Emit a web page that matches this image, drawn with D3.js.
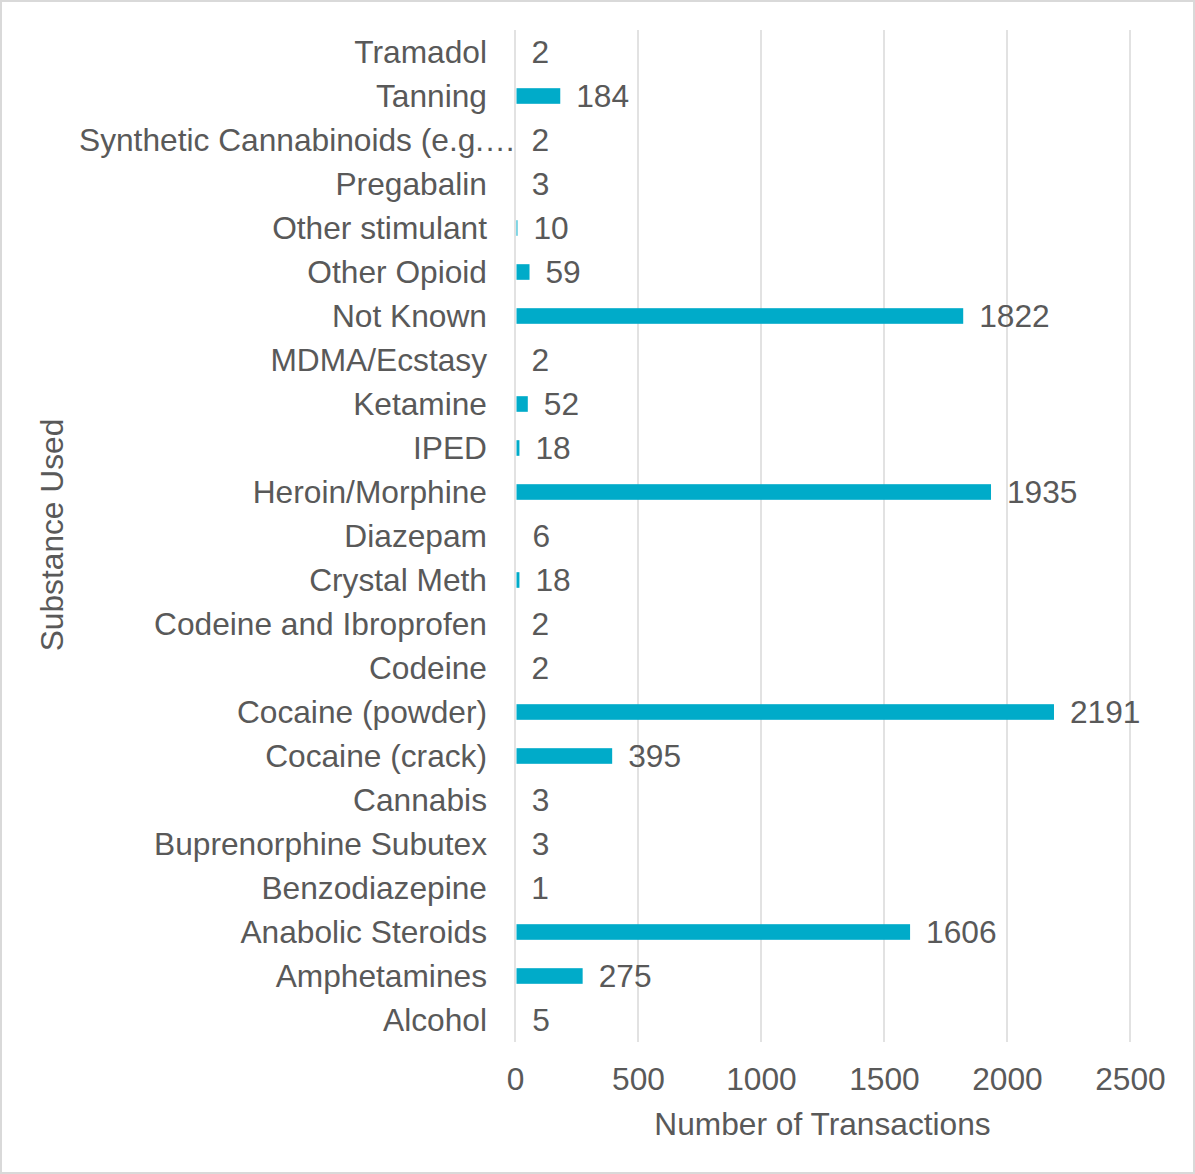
<!DOCTYPE html>
<html><head><meta charset="utf-8">
<script src="https://cdn.jsdelivr.net/npm/d3@7"></script>
<style>
html,body{margin:0;padding:0;background:#fff;}
svg{display:block;font-family:"Liberation Sans",Arial,sans-serif;}
</style></head>
<body>
<svg id="chart" width="1195" height="1174"></svg>
<script>
const categories = ["Tramadol","Tanning","Synthetic Cannabinoids (e.g.…","Pregabalin","Other stimulant","Other Opioid","Not Known","MDMA/Ecstasy","Ketamine","IPED","Heroin/Morphine","Diazepam","Crystal Meth","Codeine and Ibroprofen","Codeine","Cocaine (powder)","Cocaine (crack)","Cannabis","Buprenorphine Subutex","Benzodiazepine","Anabolic Steroids","Amphetamines","Alcohol"];
const values = [2,184,2,3,10,59,1822,2,52,18,1935,6,18,2,2,2191,395,3,3,1,1606,275,5];
const xTicks = [0,500,1000,1500,2000,2500];
const xTitle = "Number of Transactions";
const yTitle = "Substance Used";

const svg = d3.select("#chart");
const W = 1195, H = 1174;
const textColor = "#595959", fs = 31.7;
const barColor = "#00abc9";

svg.append("rect").attr("x",1).attr("y",1).attr("width",W-2).attr("height",H-2)
  .attr("fill","#fff").attr("stroke","#d9d9d9").attr("stroke-width",2);

const m = {left:515, right:1130, top:30, bottom:1042};
const x = d3.scaleLinear().domain([0,2500]).range([m.left,m.right]);
const y = d3.scaleBand().domain(categories).range([m.top,m.bottom]).paddingInner(0.645).paddingOuter(0.3225);

// gridlines
svg.append("g").selectAll("line").data(xTicks).join("line")
  .attr("x1",d=>x(d)).attr("x2",d=>x(d)).attr("y1",m.top).attr("y2",m.bottom)
  .attr("stroke","#d9d9d9").attr("stroke-width",1.5);

// bars
svg.append("g").selectAll("rect").data(values).join("rect")
  .attr("x",x(0)+1.5).attr("y",(d,i)=>y(categories[i]))
  .attr("width",d=>Math.max(0,x(d)-x(0)-1.5)).attr("height",y.bandwidth())
  .attr("fill",barColor);

const center = c => y(c)+y.bandwidth()/2;

// value labels
svg.append("g").selectAll("text").data(values).join("text")
  .attr("x",d=>x(d)+16).attr("y",(d,i)=>center(categories[i])).attr("dy","0.36em")
  .attr("fill",textColor).attr("font-size",fs).text(d=>d);

// category labels
svg.append("g").selectAll("text").data(categories).join("text")
  .attr("x",d=>d.endsWith("…")?79:487).attr("text-anchor",d=>d.endsWith("…")?"start":"end")
  .attr("y",d=>center(d)).attr("dy","0.36em")
  .attr("fill",textColor).attr("font-size",fs).text(d=>d);

// x axis tick labels
const xAxis = d3.axisBottom(x).tickValues(xTicks).tickFormat(d3.format("d")).tickSize(0).tickPadding(0);
const gx = svg.append("g").attr("transform",`translate(0,1090)`).call(xAxis);
gx.select(".domain").remove();
gx.selectAll("text").attr("dy",0).attr("y",0).attr("fill",textColor)
  .attr("font-size",fs).attr("font-family","'Liberation Sans',Arial,sans-serif");

// titles
svg.append("text").attr("x",(m.left+m.right)/2).attr("y",1135).attr("text-anchor","middle")
  .attr("fill",textColor).attr("font-size",fs).text(xTitle);
svg.append("text").attr("transform","translate(63,535) rotate(-90)").attr("text-anchor","middle")
  .attr("fill",textColor).attr("font-size",fs).text(yTitle);
</script>
</body></html>
